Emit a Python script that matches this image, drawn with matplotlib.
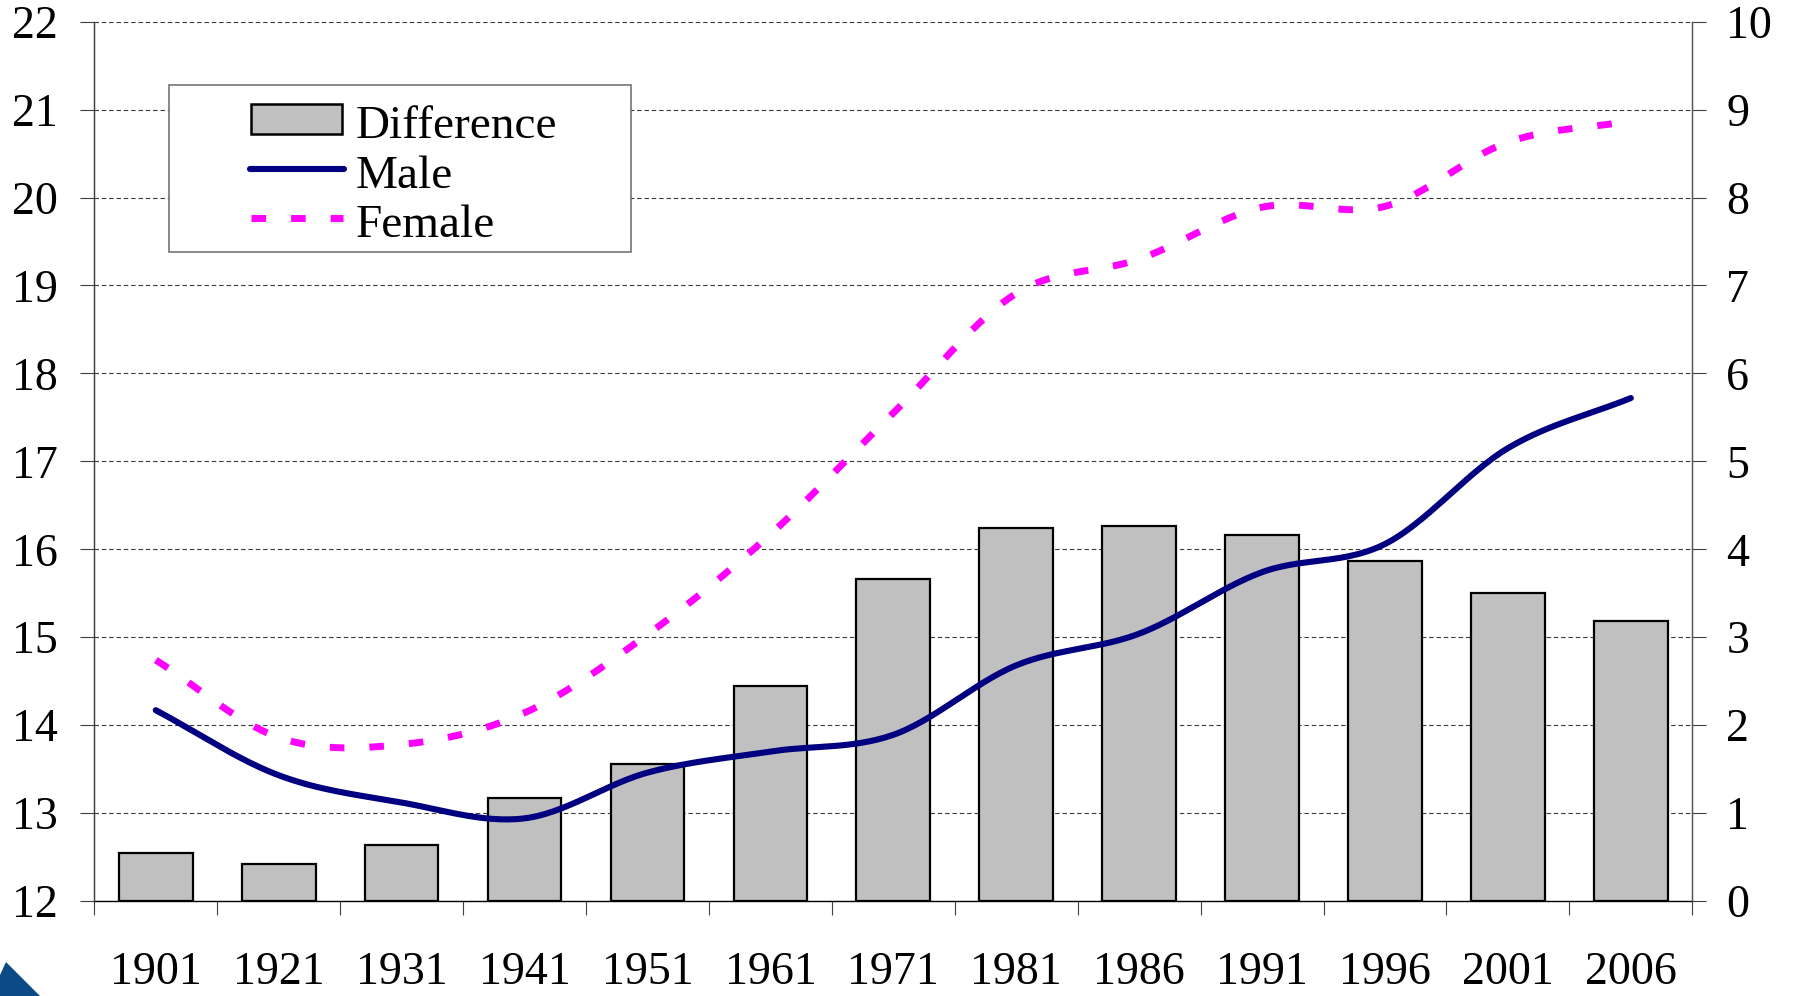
import numpy as np
import matplotlib
matplotlib.use("Agg")
import matplotlib.pyplot as plt
from matplotlib.patches import Rectangle, Polygon
from matplotlib.lines import Line2D

plt.rcParams['font.family'] = ['Liberation Serif', 'DejaVu Serif']

# ---- data ----
years = ['1901', '1921', '1931', '1941', '1951', '1961', '1971',
         '1981', '1986', '1991', '1996', '2001', '2006']
difference = [0.55, 0.42, 0.64, 1.17, 1.56, 2.44, 3.66,
              4.24, 4.27, 4.16, 3.87, 3.50, 3.18]
male = [14.17, 13.43, 13.12, 12.94, 13.46, 13.70, 13.89,
        14.68, 15.04, 15.74, 16.06, 17.15, 17.72]
female = [14.74, 13.86, 13.78, 14.14, 15.03, 16.17, 17.55,
          18.91, 19.30, 19.89, 19.90, 20.63, 20.87]
left_ticks = list(range(12, 23))
right_ticks = list(range(0, 11))

W, H = 1793, 996
fig = plt.figure(figsize=(W / 100, H / 100), dpi=100)

def fx(px):
    return px / W

def fy(py):
    return 1 - py / H

left_px, right_px, top_px, bot_px = 94.3, 1692.3, 21.7, 901.0
ax = fig.add_axes([fx(left_px), fy(bot_px), fx(right_px) - fx(left_px), fy(top_px) - fy(bot_px)])
ax2 = ax.twinx()

x = np.arange(len(years))

# bars on the right-hand scale (0-10)
ax.bar(x, difference, width=0.6, color='#C0C0C0', edgecolor='black', linewidth=1.6, zorder=2)
ax.set_ylim(0, 10)
ax.set_xlim(-0.5, len(years) - 0.5)
ax.set_yticks(right_ticks)
ax.yaxis.tick_right()
ax.yaxis.set_label_position('right')
ax.set_axisbelow(True)
ax.yaxis.grid(True, color='#3a3a3a', linestyle=(0, (4.0, 2.6)), linewidth=0.8, zorder=0)

# smoothed lines (Excel-like Catmull-Rom)
def smooth(xs, ys, n=30):
    xs = np.asarray(xs, float); ys = np.asarray(ys, float)
    px = np.concatenate([[2 * xs[0] - xs[1]], xs, [2 * xs[-1] - xs[-2]]])
    py = np.concatenate([[2 * ys[0] - ys[1]], ys, [2 * ys[-1] - ys[-2]]])
    ox, oy = [], []
    for i in range(1, len(px) - 2):
        t = np.linspace(0, 1, n, endpoint=False)
        for arr, out in ((px, ox), (py, oy)):
            p0, p1, p2, p3 = arr[i - 1], arr[i], arr[i + 1], arr[i + 2]
            out.extend(0.5 * ((2 * p1) + (-p0 + p2) * t + (2 * p0 - 5 * p1 + 4 * p2 - p3) * t ** 2
                              + (-p0 + 3 * p1 - 3 * p2 + p3) * t ** 3))
    ox.append(xs[-1]); oy.append(ys[-1])
    return np.array(ox), np.array(oy)

mx, my = smooth(x, male)
fxs, fys = smooth(x, female)
ax2.plot(fxs, fys, color='#FF00FF', linewidth=5.0, linestyle=(0, (2.1, 3.6)),
         dash_capstyle='butt', zorder=3)
ax2.plot(mx, my, color='#000080', linewidth=4.4, solid_capstyle='round',
         solid_joinstyle='round', zorder=4)
ax2.set_ylim(12, 22)
ax2.set_yticks(left_ticks)
ax2.yaxis.tick_left()

# x axis: ticks at boundaries, labels at centers
ax.set_xticks(np.arange(-0.5, len(years)), minor=False)
ax.set_xticklabels([])
ax.set_xticks(x, minor=True)
ax.set_xticklabels(years, minor=True)
ax.tick_params(axis='x', which='major', direction='out', length=10, width=0.8, color='#404040')
ax.tick_params(axis='x', which='minor', length=0, pad=36.5, labelsize=33)

ax.tick_params(axis='y', which='major', direction='out', length=10, width=0.8, color='#404040',
               labelsize=33, pad=14.5, right=True, left=False, labelright=True, labelleft=False)
ax2.tick_params(axis='y', which='major', direction='out', length=10, width=0.8, color='#404040',
                labelsize=33, pad=16, left=True, right=False, labelleft=True, labelright=False)

for a in (ax, ax2):
    a.spines['top'].set_visible(False)
    a.spines['left'].set_color('#404040')
    a.spines['right'].set_color('#555555')
    a.spines['left'].set_linewidth(0.9)
    a.spines['right'].set_linewidth(0.9)
    a.spines['bottom'].set_color('black')
    a.spines['bottom'].set_linewidth(1.0)
ax2.spines['bottom'].set_visible(False)
ax.patch.set_visible(False)

# legend (manual)
fig.patches.append(Rectangle((fx(169), fy(252.3)), fx(630.7) - fx(169), fy(85) - fy(252.3),
                             transform=fig.transFigure, facecolor='white', edgecolor='#6a6a6a',
                             linewidth=1.1, zorder=10))
fig.patches.append(Rectangle((fx(251), fy(134)), fx(342) - fx(251), fy(104) - fy(134),
                             transform=fig.transFigure, facecolor='#C0C0C0', edgecolor='black',
                             linewidth=1.8, zorder=11))
fig.lines.append(Line2D([fx(250), fx(344)], [fy(169), fy(169)], transform=fig.transFigure,
                        color='#000080', linewidth=4.4, solid_capstyle='round', zorder=11))
fig.lines.append(Line2D([fx(251), fx(343)], [fy(217.7), fy(217.7)], transform=fig.transFigure,
                        color='#FF00FF', linewidth=5.0, linestyle=(0, (2.1, 3.6)),
                        dash_capstyle='butt', zorder=11))
for lbl, base in (('Difference', 137.7), ('Male', 188.3), ('Female', 237.3)):
    fig.text(fx(356), fy(base), lbl, fontsize=34, va='baseline', ha='left', zorder=12)

# corner logo fragment
fig.patches.append(Polygon([(fx(0), fy(975)), (fx(6), fy(962)), (fx(40), fy(996)), (fx(0), fy(996))],
                           closed=True, transform=fig.transFigure, facecolor='#0B4A86',
                           edgecolor='none', zorder=5))

fig.savefig('out.png', dpi=100)
